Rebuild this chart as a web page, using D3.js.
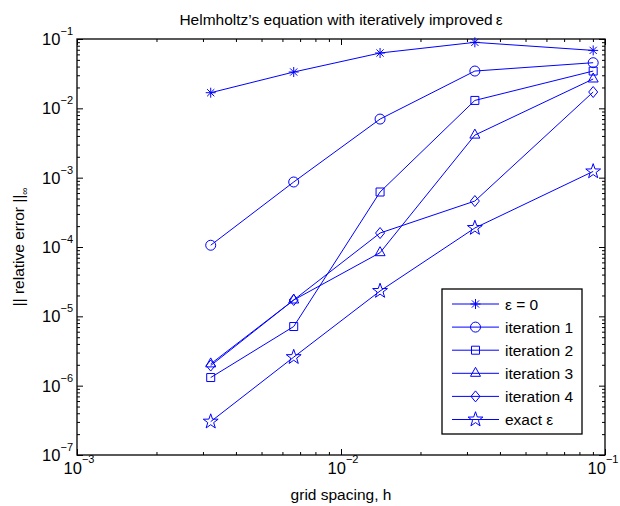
<!DOCTYPE html>
<html>
<head>
<meta charset="utf-8">
<script src="https://cdn.jsdelivr.net/npm/d3@7"></script>
<style>
  body { margin: 0; background: #fff; }
  text { font-family: "Liberation Sans", Arial, Helvetica, sans-serif; fill: #000; }
</style>
</head>
<body>
<div id="chart"></div>
<script>
const width = 620;
const height = 506;

// grid spacing h (x) and the error of each run (y)
const gridSpacing = [0.00321, 0.00662, 0.01406, 0.03214, 0.0902];
const epsZero    = [0.0168, 0.0334, 0.0628, 0.0895, 0.0685];
const iteration1 = [1.06e-4, 8.66e-4, 7.0e-3, 0.0345, 0.0455];
const iteration2 = [1.31e-6, 7.13e-6, 6.21e-4, 0.0130, 0.0345];
const iteration3 = [2.06e-6, 1.72e-5, 8.28e-5, 4.11e-3, 0.0265];
const iteration4 = [1.95e-6, 1.72e-5, 1.59e-4, 4.6e-4, 0.0172];
const exactEps   = [3.03e-7, 2.58e-6, 2.32e-5, 1.88e-4, 1.23e-3];

const seriesNames = ["ε = 0", "iteration 1", "iteration 2", "iteration 3", "iteration 4", "exact ε"];
const markerTypes = ["asterisk", "circle", "square", "triangle", "diamond", "star"];
const xTickExps = [-3, -2, -1];
const yTickExps = [-7, -6, -5, -4, -3, -2, -1];

const series = [epsZero, iteration1, iteration2, iteration3, iteration4, exactEps]
  .map((vals, i) => ({ name: seriesNames[i], marker: markerTypes[i], values: vals }));

const blue = "#0000ff";
const plotL = 77, plotR = 605, plotT = 39, plotB = 455;

const x = d3.scaleLog().domain([1e-3, 1e-1]).range([plotL, plotR]);
const y = d3.scaleLog().domain([1e-7, 1e-1]).range([plotB, plotT]);

// marker shapes, centred on 0,0
function markerPath(type) {
  switch (type) {
    case "asterisk":
      return "M-5,0H5M0,-5V5M-3.6,-3.6L3.6,3.6M-3.6,3.6L3.6,-3.6";
    case "circle":
      return "M5,0A5,5 0 1,1 -5,0A5,5 0 1,1 5,0Z";
    case "square":
      return "M-4,-4H4V4H-4Z";
    case "triangle":
      return "M0,-6L5,3L-5,3Z";
    case "diamond":
      return "M0,-5.5L4.5,0L0,5.5L-4.5,0Z";
    case "star": {
      let p = "";
      for (let k = 0; k < 10; k++) {
        const r = k % 2 === 0 ? 7.8 : 3.1;
        const a = -Math.PI / 2 + k * Math.PI / 5;
        p += (k === 0 ? "M" : "L") + (r * Math.cos(a)).toFixed(2) + "," + (r * Math.sin(a)).toFixed(2);
      }
      return p + "Z";
    }
  }
}

const svg = d3.select("#chart").append("svg")
  .attr("width", width)
  .attr("height", height);

svg.append("rect").attr("width", width).attr("height", height).attr("fill", "#fff");

// minor / major tick values for the log axes
const xMinor = [], yMinor = [];
for (let e = -3; e < -1; e++) for (let m = 2; m <= 9; m++) xMinor.push(m * Math.pow(10, e));
for (let e = -7; e < -1; e++) for (let m = 2; m <= 9; m++) yMinor.push(m * Math.pow(10, e));
const xMajor = xTickExps.map(e => Math.pow(10, e));
const yMajor = yTickExps.map(e => Math.pow(10, e));

function drawTicks(axis, tx, ty, values, size) {
  svg.append("g")
    .attr("transform", `translate(${tx},${ty})`)
    .call(axis.tickValues(values).tickSize(size).tickFormat(""))
    .call(g => g.select(".domain").remove())
    .selectAll("line").attr("stroke", "#000").attr("stroke-width", 1);
}
// ticks point inward on all four sides
drawTicks(d3.axisBottom(x), 0, plotB, xMinor, -3);
drawTicks(d3.axisBottom(x), 0, plotB, xMajor, -6);
drawTicks(d3.axisTop(x), 0, plotT, xMinor, -3);
drawTicks(d3.axisTop(x), 0, plotT, xMajor, -6);
drawTicks(d3.axisLeft(y), plotL, 0, yMinor, -3);
drawTicks(d3.axisLeft(y), plotL, 0, yMajor, -6);
drawTicks(d3.axisRight(y), plotR, 0, yMinor, -3);
drawTicks(d3.axisRight(y), plotR, 0, yMajor, -6);

// plot box
svg.append("rect")
  .attr("x", plotL).attr("y", plotT)
  .attr("width", plotR - plotL).attr("height", plotB - plotT)
  .attr("fill", "none").attr("stroke", "#000").attr("stroke-width", 1.3);

// tick labels 10^n (the last one is kept inside the page)
xTickExps.forEach(e => {
  const t = svg.append("text")
    .attr("x", Math.min(x(Math.pow(10, e)) + 2, width - 17))
    .attr("y", 474)
    .attr("text-anchor", "middle")
    .style("font-size", "16.5px");
  t.append("tspan").text("10");
  t.append("tspan").attr("dy", -11).style("font-size", "11px").text("−" + Math.abs(e));
});
yTickExps.forEach(e => {
  const t = svg.append("text")
    .attr("x", 73)
    .attr("y", y(Math.pow(10, e)) + 6)
    .attr("text-anchor", "end")
    .style("font-size", "16.5px");
  t.append("tspan").text("10");
  t.append("tspan").attr("dy", -10).style("font-size", "11px").text("−" + Math.abs(e));
});

// lines and markers
const line = d3.line()
  .x((d, i) => x(gridSpacing[i]))
  .y(d => y(d));

series.forEach(s => {
  svg.append("path")
    .attr("d", line(s.values))
    .attr("fill", "none")
    .attr("stroke", blue)
    .attr("stroke-width", 1);
  svg.selectAll(null)
    .data(s.values)
    .enter()
    .append("path")
    .attr("transform", (d, i) => `translate(${x(gridSpacing[i])},${y(d)})`)
    .attr("d", markerPath(s.marker))
    .attr("fill", "none")
    .attr("stroke", blue)
    .attr("stroke-width", 1);
});

// legend
const legend = svg.append("g").attr("transform", "translate(442,289)");
legend.append("rect")
  .attr("width", 140).attr("height", 145)
  .attr("fill", "#fff").attr("stroke", "#000").attr("stroke-width", 1.3);
series.forEach((s, i) => {
  const ly = 15 + i * 23.1;
  legend.append("line")
    .attr("x1", 10).attr("x2", 57).attr("y1", ly).attr("y2", ly)
    .attr("stroke", blue).attr("stroke-width", 1);
  legend.append("path")
    .attr("transform", `translate(33.5,${ly})`)
    .attr("d", markerPath(s.marker))
    .attr("fill", "none").attr("stroke", blue).attr("stroke-width", 1);
  legend.append("text")
    .attr("x", 63).attr("y", ly + 5.5)
    .style("font-size", "15.5px")
    .text(s.name);
});

// title and axis labels
const title = svg.append("text")
  .attr("x", (plotL + plotR) / 2).attr("y", 25)
  .attr("text-anchor", "middle")
  .style("font-size", "15.5px");
title.append("tspan").text("Helmholtz’s equation with iteratively improved");
title.append("tspan").attr("dx", 3).text("ε");

svg.append("text")
  .attr("x", (plotL + plotR) / 2).attr("y", 500)
  .attr("text-anchor", "middle")
  .style("font-size", "15.5px")
  .text("grid spacing, h");

const ylab = svg.append("text")
  .attr("transform", `translate(24,${(plotT + plotB) / 2}) rotate(-90)`)
  .attr("text-anchor", "middle")
  .style("font-size", "15.5px");
ylab.append("tspan").text("|| relative error ||");
ylab.append("tspan").attr("dy", 4).style("font-size", "10px").text("∞");
</script>
</body>
</html>
